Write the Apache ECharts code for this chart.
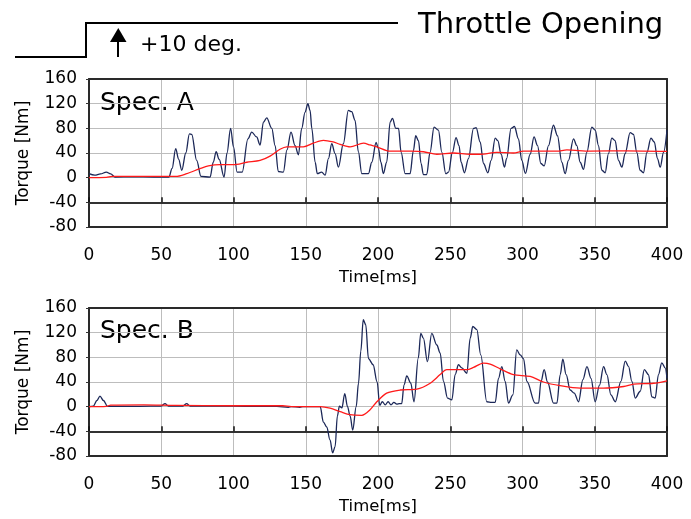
<!DOCTYPE html>
<html>
<head>
<meta charset="utf-8">
<script src="https://cdn.jsdelivr.net/npm/echarts@6/dist/echarts.min.js"></script>
<style>
html,body{margin:0;padding:0;background:#fff;}
#chart{width:691px;height:519px;}
</style>
</head>
<body>
<div id="chart"></div>
<script>
// ---------- Data ----------
const panelTitles = ['Spec. A', 'Spec. B'];
const xTitle = 'Time[ms]';
const yTitle = 'Torque [Nm]';
const xMin = 0, xMax = 400, xStep = 50;
const yMin = -80, yMax = 160, yStep = 40;
const yCross = -40;

// Spec. A instantaneous torque (blue)
const timeA = [0,4,8,12,15,18,30,45,55.3,57.5,60,62,64.2,67,69.5,71.1,74.5,77.5,83.8,86,88,90,93.5,95.5,98,100,102.5,106,110,112.6,116,118.4,120.7,123,126.5,128.8,131,134.5,137,139.8,142.6,144.9,147.2,149.5,151.5,153,154.2,156.5,158,161,163.4,165.7,168,170.3,172.6,176,179.5,181.8,184.1,186.4,188.8,193.4,195.7,198.7,200.3,202,203.7,206,208.4,210,212.3,214.2,216,218.8,222.2,224.5,226.1,228,229.8,231.4,233.7,236,238.8,241.8,244.2,246.9,248.8,251.5,254,256.1,257.5,259.8,262.6,266.1,267.9,270.7,273,276,278.3,281.1,282.9,285.2,287.5,289,292.1,294.4,297.2,299.5,302,305.3,308,310.4,312.7,315,318,321.4,324.2,327.2,329.5,331.8,335.3,337.6,339.9,342.2,344.5,348,350.3,352.6,354.9,357.2,359.5,361.8,364.1,366.4,368.8,371,374.5,376.8,379.1,381.4,383.7,386.1,388.9,391.2,393.4,395.3,397.6,400];
const torqueA = [6.5,4,6,9,6,1,1.5,1,1,15,47,30,12,40,71,70,28,2,1,25,42,30,1,40,80,50,9,9,63,74,66,53,90,97,80,52,10,9,45,74,52,37,80,106,120,109,80,25,6.5,9,4,31,55,39,17,55,109,107,93,42,6.5,6.5,25,57,47,25,6.5,25,90,96,80,80,41,6.5,6.5,44,68,60,23,5,5,41,82,77,41,6.5,9,41,65,52,25,8,31,80,81,58,23,8,28,64,60,38,17,31,80,83,63,28,7,38,66,52,23,19,52,85,68,25,6.5,28,63,52,25,13.5,41,82,77,52,12,8,39,64,60,28,17,39,73,70,41,12,8,41,64,58,31,17,41,77];
// Spec. A mean torque (red)
const timeMeanA = [0,12,16,55,60,67.6,76.8,82.6,90.7,99.9,109.2,118.4,125.3,132.2,136.8,148.3,155.3,162.2,169,173.8,180.7,190,194.5,199.2,208.4,223,231.5,240.7,252.2,263.8,270.7,282.2,293.7,300.7,323.8,330.7,347,372.2,400];
const meanA = [0,0.5,2,2,2,6.5,14.6,19,21,21,25,28,35,46,50,50,56,60.6,58,54,50,56,53,50,43,43,42,38,40,38,38,41,40,43,43,45,43,43.6,42.7];

// Spec. B instantaneous torque (blue)
const timeB = [0,3,5.5,7.6,10,12.9,20,35,50,52.6,55,65,67.6,70,90,110,130,138,140,146,148,160,162.2,164.5,166.8,168.6,170.3,171.9,173.3,175,177,178.9,180.7,182.5,184.9,186.5,188.1,189.8,191.5,193.4,196.6,199.4,201.2,203,205,207,209,211,213,214.8,216.4,218,219.9,222.7,224.9,227.9,229.6,231.4,234.2,237.2,240.7,243,245.3,248.1,251.1,253.4,255.7,258,261.5,263.8,265.6,268.4,271.1,275.3,278.7,281.1,283.4,285.7,288,290.3,293.3,296,298.4,300.7,303,308.8,311.1,312.8,315,317.3,321.5,323.8,326.1,327.9,330.2,333,335.8,338.8,341.8,344.6,347.4,350.3,353.3,356.1,358.4,361.2,364.2,368.1,371.1,373.4,375.7,378,381.5,384.3,387.2,389.5,391.8,394.1,396.4,398.7,400];
const torqueB = [0,1,10,17,10,0.5,0.5,0.5,1,5,1,1,5,1,1,0.5,0.5,-1,0,-1,0,0,-25,-33,-54,-75,-65,-15,1,-2,21,0,-15,-38,0,38,90,141,133,78,68,40,2,8,3,8,3,7,4,5,5,35,50,38,8,79,119,111,73,119,100,87,41,14,11,52,68,63,54,111,130,125,84,8,7,7,46,65,41,5.6,19,92,84,78,41,5.6,5.6,41,60,40,5.6,5.6,52,77,52,27,22,8,44,65,46,8,35,65,52,19,8,41,74,65,41,14,25,60,52,16,14,52,71,63,46,19];
// Spec. B mean torque (red)
const timeMeanB = [0,12,15,38,60,100,134,140,160,166.8,173.8,180.7,188.8,194.5,199.2,206,215.3,226.9,236.1,243,247.6,261.5,266.1,273,277.6,284.5,293.7,305.3,314.5,326,339.9,356.1,370,376.9,390.7,400];
const meanB = [0,0.5,2.5,3,2,1.5,1.5,0,0,-2.5,-8,-13,-14,-5,8,22,27,28.4,38,52,60,60,63.6,70.6,69,61.4,52,49,40,34,30,30,32.7,36.5,38,42];

// ---------- Chart ----------
const FONT = 'DejaVu Sans';
const border = () => ({show: true, onZero: false, lineStyle: {color: '#2a2a2a', width: 2, type: 'solid'}});
const gridline = () => ({show: true, lineStyle: {color: '#bdbdbd', width: 1, type: 'solid'}});
const pair = (ts, vs) => ts.map((t, i) => [t, vs[i]]);

const gridTops = [79, 308];
const gridH = 148;
const crossOffset = -gridH * (yCross - yMin) / (yMax - yMin);

const grids = [], xAxes = [], yAxes = [], series = [];
const blues = [pair(timeA, torqueA), pair(timeB, torqueB)];
const reds = [pair(timeMeanA, meanA), pair(timeMeanB, meanB)];

gridTops.forEach((top, g) => {
  grids.push({left: 89, top: top, width: 578, height: gridH, show: false, containLabel: false});
  const xBase = () => ({type: 'value', gridIndex: g, min: xMin, max: xMax, interval: xStep, z: 2});
  const yBase = () => ({type: 'value', gridIndex: g, min: yMin, max: yMax, interval: yStep, z: 2});
  // label axis (bottom border) with vertical grid lines
  xAxes.push(Object.assign(xBase(), {position: 'bottom',
    axisLine: border(), axisTick: {show: false},
    axisLabel: {margin: 20, fontSize: 17, color: '#000', fontFamily: FONT},
    splitLine: gridline(),
    name: xTitle, nameLocation: 'middle', nameGap: 42,
    nameTextStyle: {fontSize: 16.5, color: '#000', fontFamily: FONT}}));
  // axis line crossing at -40 with inside ticks
  xAxes.push(Object.assign(xBase(), {position: 'bottom', offset: crossOffset,
    axisLine: {show: true, onZero: false, lineStyle: {color: '#333', width: 2}},
    axisTick: {show: true, inside: true, length: 5, lineStyle: {color: '#111', width: 1.5}},
    axisLabel: {show: false}, splitLine: {show: false}}));
  // top border
  xAxes.push(Object.assign(xBase(), {position: 'top',
    axisLine: border(), axisTick: {show: false}, axisLabel: {show: false}, splitLine: {show: false}}));
  // left axis
  yAxes.push(Object.assign(yBase(), {position: 'left',
    axisLine: border(),
    axisTick: {show: true, inside: false, length: 3, lineStyle: {color: '#333'}},
    axisLabel: {margin: 12, fontSize: 17, color: '#000', fontFamily: FONT},
    splitLine: gridline(),
    name: yTitle, nameLocation: 'middle', nameGap: 57,
    nameTextStyle: {fontSize: 17, color: '#000', fontFamily: FONT}}));
  // right border
  yAxes.push(Object.assign(yBase(), {position: 'right',
    axisLine: border(), axisTick: {show: false}, axisLabel: {show: false}, splitLine: {show: false}}));
  series.push({type: 'line', xAxisIndex: g * 3, yAxisIndex: g * 2, data: blues[g],
    showSymbol: false, smooth: 0.35, smoothMonotone: 'x',
    lineStyle: {color: '#1c2858', width: 1.3}, z: 3});
  series.push({type: 'line', xAxisIndex: g * 3, yAxisIndex: g * 2, data: reds[g],
    showSymbol: false, smooth: 0.3,
    lineStyle: {color: '#ff1a1a', width: 1.3}, z: 4});
});

const chart = echarts.init(document.getElementById('chart'), null, {renderer: 'canvas'});
chart.setOption({
  animation: false,
  grid: grids, xAxis: xAxes, yAxis: yAxes, series: series,
  graphic: [
    {type: 'polyline', shape: {points: [[15, 57], [86, 57], [86, 23], [398, 23]]},
      style: {stroke: '#000', lineWidth: 2, fill: null}},
    {type: 'line', shape: {x1: 118, y1: 57, x2: 118, y2: 40}, style: {stroke: '#000', lineWidth: 2}},
    {type: 'polygon', shape: {points: [[110, 42], [126.5, 42], [118.3, 28]]}, style: {fill: '#000'}},
    {type: 'text', x: 140, y: 45.5, style: {text: '+10 deg.', fontSize: 22, fontFamily: FONT, fill: '#000', verticalAlign: 'middle'}},
    {type: 'text', x: 418, y: 25, style: {text: 'Throttle Opening', fontSize: 29, fontFamily: FONT, fill: '#000', verticalAlign: 'middle'}},
    {type: 'text', x: 100, y: 103, style: {text: panelTitles[0], fontSize: 25, fontFamily: FONT, fill: '#000', verticalAlign: 'middle'}},
    {type: 'text', x: 100, y: 331, style: {text: panelTitles[1], fontSize: 25, fontFamily: FONT, fill: '#000', verticalAlign: 'middle'}}
  ]
});
</script>
</body>
</html>
